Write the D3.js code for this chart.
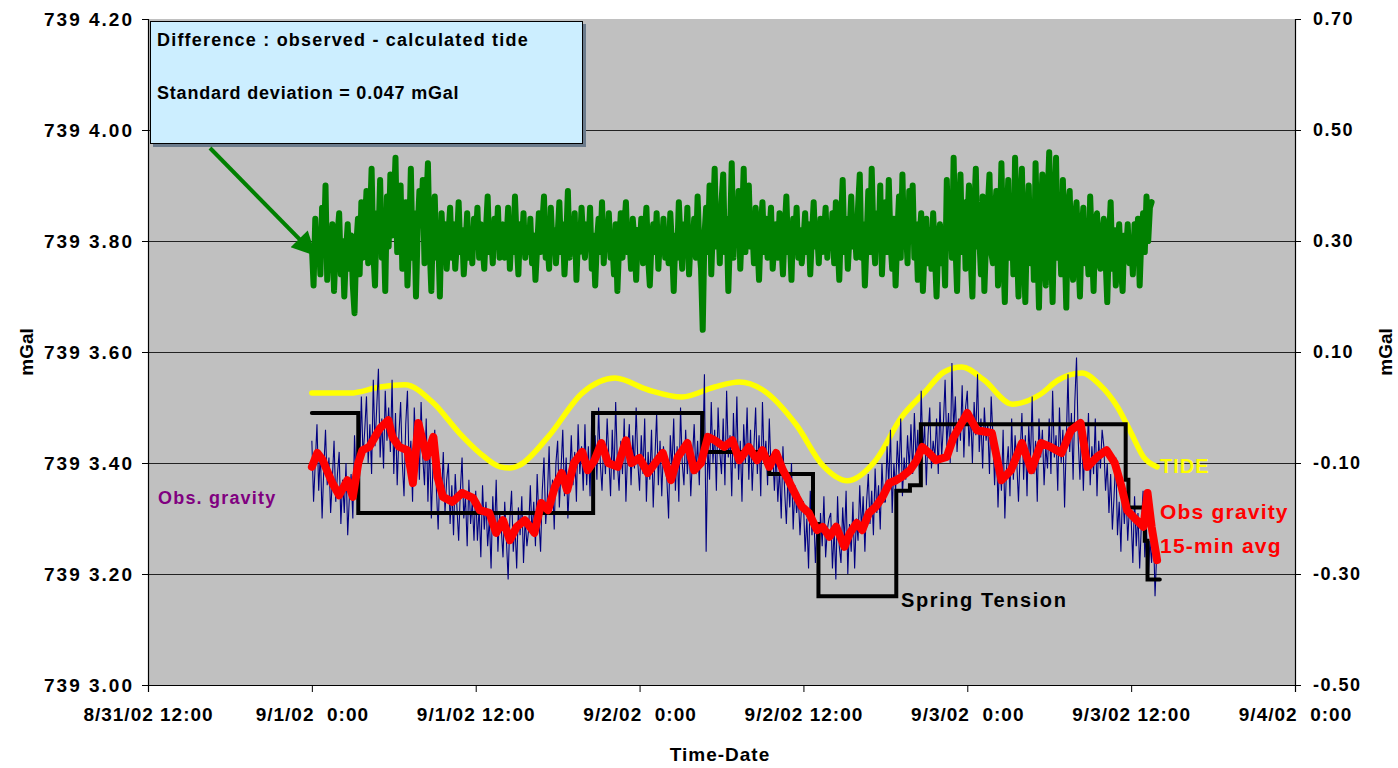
<!DOCTYPE html>
<html>
<head>
<meta charset="utf-8">
<script src="https://cdn.jsdelivr.net/npm/d3@7"></script>
<style>
  body { margin: 0; background: #fff; }
  svg text { font-family: "Liberation Sans", Arial, sans-serif; font-weight: bold; }
</style>
</head>
<body>
<svg id="chart" width="1398" height="768"></svg>
<script>
// ---- data (time in hours from 9/1/02 0:00) ----
var xTicks = [-12, 0, 12, 24, 36, 48, 60, 72];
var xTickLabels = ["8/31/02 12:00", "9/1/02  0:00", "9/1/02 12:00", "9/2/02  0:00",
                   "9/2/02 12:00", "9/3/02  0:00", "9/3/02 12:00", "9/4/02  0:00"];
var leftTicks = [7393.0, 7393.2, 7393.4, 7393.6, 7393.8, 7394.0, 7394.2];
var leftTickLabels = ["739 3.00", "739 3.20", "739 3.40", "739 3.60", "739 3.80", "739 4.00", "739 4.20"];
var rightTicks = [-0.5, -0.3, -0.1, 0.1, 0.3, 0.5, 0.7];
var rightTickLabels = ["-0.50", "-0.30", "-0.10", "0.10", "0.30", "0.50", "0.70"];

// difference observed - calculated tide (right axis), every 7.5 min from h=0
var diffStep = 0.125;
var diffValues = [
  0.29, 0.22, 0.34, 0.26, 0.31, 0.24, 0.36, 0.28, 0.40, 0.23, 0.30, 0.26, 0.33, 0.21, 0.29, 0.31,
  0.35, 0.24, 0.30, 0.20, 0.28, 0.33, 0.25, 0.31, 0.22, 0.17, 0.29, 0.34, 0.24, 0.37, 0.27, 0.32,
  0.39, 0.26, 0.33, 0.43, 0.28, 0.22, 0.35, 0.30, 0.41, 0.27, 0.33, 0.21, 0.38, 0.29, 0.42, 0.31,
  0.36, 0.45, 0.28, 0.34, 0.40, 0.25, 0.31, 0.37, 0.22, 0.30, 0.43, 0.27, 0.35, 0.20, 0.32, 0.39,
  0.33, 0.41, 0.26, 0.36, 0.44, 0.29, 0.21, 0.34, 0.38, 0.27, 0.31, 0.20, 0.35, 0.28, 0.33, 0.25,
  0.31, 0.36, 0.27, 0.33, 0.25, 0.30, 0.37, 0.28, 0.32, 0.24, 0.29, 0.35, 0.27, 0.31, 0.26, 0.34,
  0.30, 0.36, 0.27, 0.33, 0.29, 0.25, 0.32, 0.38, 0.28, 0.31, 0.26, 0.34, 0.29, 0.36, 0.27, 0.31,
  0.33, 0.27, 0.30, 0.36, 0.25, 0.32, 0.28, 0.38, 0.30, 0.24, 0.33, 0.29, 0.35, 0.27, 0.31, 0.28,
  0.34, 0.26, 0.31, 0.23, 0.29, 0.35, 0.28, 0.33, 0.38, 0.27, 0.30, 0.25, 0.36, 0.29, 0.32, 0.26,
  0.31, 0.37, 0.28, 0.33, 0.24, 0.30, 0.39, 0.27, 0.32, 0.29, 0.35, 0.23, 0.31, 0.28, 0.36, 0.30,
  0.27, 0.33, 0.29, 0.36, 0.25, 0.31, 0.22, 0.30, 0.34, 0.28, 0.37, 0.26, 0.32, 0.29, 0.35, 0.27,
  0.30, 0.24, 0.33, 0.21, 0.29, 0.35, 0.27, 0.32, 0.37, 0.28, 0.31, 0.25, 0.34, 0.30, 0.23, 0.32,
  0.28, 0.34, 0.26, 0.31, 0.36, 0.27, 0.22, 0.30, 0.33, 0.28, 0.35, 0.25, 0.31, 0.29, 0.34, 0.27,
  0.32, 0.26, 0.35, 0.29, 0.21, 0.31, 0.27, 0.37, 0.30, 0.25, 0.33, 0.28, 0.36, 0.24, 0.31, 0.29,
  0.34, 0.27, 0.38, 0.29, 0.25, 0.14, 0.31, 0.36, 0.28, 0.40, 0.24, 0.33, 0.43, 0.29, 0.35, 0.26,
  0.37, 0.42, 0.28, 0.34, 0.21, 0.31, 0.44, 0.27, 0.36, 0.30, 0.39, 0.25, 0.33, 0.43, 0.28, 0.35,
  0.40, 0.29, 0.33, 0.26, 0.36, 0.30, 0.23, 0.32, 0.37, 0.28, 0.34, 0.27, 0.31, 0.36, 0.25, 0.30,
  0.33, 0.27, 0.35, 0.30, 0.24, 0.32, 0.38, 0.28, 0.31, 0.23, 0.34, 0.29, 0.36, 0.27, 0.32, 0.26,
  0.30, 0.35, 0.28, 0.33, 0.24, 0.31, 0.37, 0.29, 0.32, 0.26, 0.34, 0.28, 0.31, 0.36, 0.27, 0.33,
  0.29, 0.35, 0.26, 0.37, 0.30, 0.23, 0.33, 0.41, 0.28, 0.34, 0.25, 0.31, 0.38, 0.29, 0.33, 0.27,
  0.36, 0.42, 0.27, 0.33, 0.22, 0.30, 0.39, 0.28, 0.43, 0.31, 0.26, 0.35, 0.29, 0.40, 0.24, 0.32,
  0.37, 0.28, 0.41, 0.30, 0.25, 0.34, 0.22, 0.31, 0.38, 0.27, 0.42, 0.29, 0.33, 0.26, 0.39, 0.30,
  0.40, 0.27, 0.33, 0.23, 0.30, 0.35, 0.21, 0.29, 0.34, 0.26, 0.32, 0.25, 0.35, 0.28, 0.20, 0.30,
  0.33, 0.26, 0.31, 0.22, 0.41, 0.29, 0.36, 0.27, 0.45, 0.30, 0.21, 0.34, 0.42, 0.28, 0.37, 0.25,
  0.33, 0.40, 0.27, 0.20, 0.35, 0.43, 0.29, 0.31, 0.24, 0.38, 0.21, 0.30, 0.36, 0.42, 0.28, 0.26,
  0.34, 0.39, 0.22, 0.31, 0.44, 0.28, 0.19, 0.33, 0.41, 0.27, 0.36, 0.24, 0.45, 0.30, 0.20, 0.35,
  0.43, 0.28, 0.19, 0.33, 0.40, 0.26, 0.36, 0.23, 0.44, 0.30, 0.18, 0.34, 0.42, 0.27, 0.22, 0.37,
  0.46, 0.29, 0.19, 0.35, 0.45, 0.27, 0.33, 0.24, 0.41, 0.30, 0.18, 0.36, 0.39, 0.26, 0.23, 0.34,
  0.37, 0.28, 0.20, 0.32, 0.36, 0.26, 0.30, 0.24, 0.38, 0.29, 0.21, 0.33, 0.35, 0.27, 0.25, 0.31,
  0.34, 0.27, 0.19, 0.30, 0.37, 0.25, 0.32, 0.22, 0.29, 0.33, 0.25, 0.21, 0.31, 0.28, 0.33, 0.26,
  0.30, 0.24, 0.33, 0.27, 0.34, 0.22, 0.31, 0.35, 0.28, 0.38, 0.30, 0.36, 0.37
];

// observed gravity raw (left axis), every 7.5 min from h=0
var obsStep = 0.125;
var obsValues = [
  7393.44, 7393.33, 7393.40, 7393.47, 7393.35, 7393.42, 7393.30, 7393.39, 7393.46, 7393.36, 7393.41, 7393.31, 7393.37, 7393.44, 7393.33, 7393.38,
  7393.42, 7393.29, 7393.37, 7393.31, 7393.40, 7393.27, 7393.34, 7393.38, 7393.30, 7393.45, 7393.36, 7393.48, 7393.39, 7393.52, 7393.41, 7393.46,
  7393.52, 7393.40, 7393.47, 7393.38, 7393.55, 7393.43, 7393.50, 7393.57, 7393.41, 7393.48, 7393.39, 7393.53, 7393.44, 7393.50, 7393.42, 7393.55,
  7393.38, 7393.49, 7393.36, 7393.45, 7393.51, 7393.40, 7393.34, 7393.47, 7393.53, 7393.39, 7393.44, 7393.33, 7393.50, 7393.42, 7393.47, 7393.37,
  7393.51, 7393.41, 7393.36, 7393.48, 7393.33, 7393.44, 7393.30, 7393.40, 7393.46, 7393.35, 7393.28, 7393.39, 7393.34, 7393.42, 7393.31, 7393.37,
  7393.40, 7393.29, 7393.36, 7393.27, 7393.38, 7393.32, 7393.26, 7393.35, 7393.41, 7393.30, 7393.34, 7393.25, 7393.37, 7393.29, 7393.33, 7393.26,
  7393.35, 7393.26, 7393.32, 7393.23, 7393.36, 7393.28, 7393.33, 7393.25, 7393.30, 7393.21, 7393.34, 7393.27, 7393.37, 7393.24, 7393.31, 7393.28,
  7393.23, 7393.33, 7393.26, 7393.19, 7393.30, 7393.35, 7393.24, 7393.29, 7393.21, 7393.32, 7393.27, 7393.34, 7393.22, 7393.30, 7393.25, 7393.28,
  7393.36, 7393.27, 7393.33, 7393.25, 7393.38, 7393.30, 7393.24, 7393.35, 7393.41, 7393.29, 7393.34, 7393.43, 7393.31, 7393.37, 7393.28, 7393.40,
  7393.44, 7393.32, 7393.39, 7393.46, 7393.34, 7393.41, 7393.30, 7393.37, 7393.45, 7393.36, 7393.42, 7393.33, 7393.47, 7393.38, 7393.43, 7393.35,
  7393.47, 7393.36, 7393.43, 7393.34, 7393.49, 7393.39, 7393.45, 7393.37, 7393.50, 7393.40, 7393.35, 7393.44, 7393.38, 7393.48, 7393.41, 7393.34,
  7393.46, 7393.37, 7393.51, 7393.40, 7393.35, 7393.44, 7393.38, 7393.48, 7393.33, 7393.42, 7393.47, 7393.36, 7393.45, 7393.39, 7393.50, 7393.40,
  7393.35, 7393.45, 7393.38, 7393.48, 7393.33, 7393.42, 7393.37, 7393.46, 7393.32, 7393.41, 7393.49, 7393.36, 7393.44, 7393.34, 7393.43, 7393.39,
  7393.37, 7393.30, 7393.45, 7393.39, 7393.48, 7393.35, 7393.43, 7393.33, 7393.50, 7393.40, 7393.36, 7393.46, 7393.38, 7393.44, 7393.34, 7393.41,
  7393.47, 7393.38, 7393.44, 7393.36, 7393.49, 7393.41, 7393.56, 7393.24, 7393.43, 7393.37, 7393.51, 7393.40, 7393.46, 7393.35, 7393.50, 7393.42,
  7393.38, 7393.48, 7393.36, 7393.53, 7393.41, 7393.45, 7393.34, 7393.49, 7393.39, 7393.52, 7393.37, 7393.44, 7393.33, 7393.47, 7393.40, 7393.50,
  7393.37, 7393.46, 7393.35, 7393.43, 7393.50, 7393.38, 7393.45, 7393.34, 7393.51, 7393.40, 7393.44, 7393.36, 7393.48, 7393.39, 7393.42, 7393.35,
  7393.42, 7393.33, 7393.39, 7393.30, 7393.43, 7393.35, 7393.29, 7393.38, 7393.32, 7393.40, 7393.28, 7393.36, 7393.31, 7393.34, 7393.27, 7393.33,
  7393.33, 7393.24, 7393.30, 7393.21, 7393.35, 7393.27, 7393.32, 7393.22, 7393.29, 7393.19, 7393.31, 7393.25, 7393.34, 7393.23, 7393.28, 7393.30,
  7393.31, 7393.21, 7393.28, 7393.19, 7393.34, 7393.25, 7393.22, 7393.32, 7393.26, 7393.35, 7393.20, 7393.29, 7393.24, 7393.33, 7393.21, 7393.30,
  7393.26, 7393.36, 7393.28, 7393.34, 7393.24, 7393.33, 7393.38, 7393.29, 7393.35, 7393.27, 7393.39, 7393.31, 7393.36, 7393.28, 7393.40, 7393.33,
  7393.33, 7393.43, 7393.36, 7393.46, 7393.31, 7393.40, 7393.35, 7393.44, 7393.38, 7393.48, 7393.34, 7393.41, 7393.37, 7393.45, 7393.39, 7393.47,
  7393.38, 7393.49, 7393.40, 7393.46, 7393.37, 7393.53, 7393.42, 7393.47, 7393.36, 7393.45, 7393.50, 7393.39, 7393.44, 7393.41, 7393.48, 7393.38,
  7393.51, 7393.41, 7393.47, 7393.55, 7393.43, 7393.49, 7393.40, 7393.58, 7393.46, 7393.52, 7393.42, 7393.48, 7393.44, 7393.54, 7393.41, 7393.50,
  7393.53, 7393.43, 7393.49, 7393.40, 7393.51, 7393.45, 7393.56, 7393.42, 7393.48, 7393.39, 7393.50, 7393.44, 7393.47, 7393.38, 7393.52, 7393.45,
  7393.36, 7393.44, 7393.32, 7393.41, 7393.35, 7393.46, 7393.30, 7393.39, 7393.43, 7393.34, 7393.48, 7393.37, 7393.45, 7393.40, 7393.33, 7393.42,
  7393.49, 7393.37, 7393.45, 7393.34, 7393.47, 7393.40, 7393.52, 7393.38, 7393.44, 7393.33, 7393.48, 7393.41, 7393.46, 7393.36, 7393.43, 7393.39,
  7393.48, 7393.38, 7393.53, 7393.41, 7393.45, 7393.35, 7393.50, 7393.40, 7393.46, 7393.32, 7393.44, 7393.56, 7393.42, 7393.49, 7393.37, 7393.51,
  7393.59, 7393.44, 7393.37, 7393.47, 7393.35, 7393.45, 7393.40, 7393.49, 7393.36, 7393.43, 7393.38, 7393.48, 7393.34, 7393.44, 7393.39, 7393.46,
  7393.43, 7393.35, 7393.40, 7393.31, 7393.38, 7393.28, 7393.34, 7393.41, 7393.27, 7393.33, 7393.24, 7393.36, 7393.29, 7393.35, 7393.26, 7393.32,
  7393.30, 7393.22, 7393.34, 7393.25, 7393.31, 7393.21, 7393.29, 7393.35, 7393.23, 7393.28, 7393.19, 7393.26, 7393.22, 7393.29, 7393.16, 7393.24,
  7393.22
];

// 15-min average [hour, mGal]
var avgPoints = [
  [0.0, 7393.393], [0.4, 7393.418], [0.8, 7393.405], [1.1, 7393.387], [1.5, 7393.364],
  [2.0, 7393.342], [2.6, 7393.369], [3.0, 7393.339], [3.4, 7393.400], [3.7, 7393.423],
  [4.2, 7393.429], [5.0, 7393.463], [5.6, 7393.477], [5.9, 7393.447], [6.4, 7393.429],
  [7.0, 7393.423], [7.4, 7393.364], [7.8, 7393.472], [8.4, 7393.411], [8.9, 7393.447],
  [9.2, 7393.375], [9.6, 7393.339], [10.3, 7393.330], [11.0, 7393.346], [11.8, 7393.337],
  [12.3, 7393.315], [13.0, 7393.310], [13.5, 7393.274], [14.0, 7393.297], [14.5, 7393.261],
  [15.0, 7393.285], [15.6, 7393.297], [16.3, 7393.274], [16.8, 7393.328], [17.3, 7393.315],
  [17.8, 7393.357], [18.3, 7393.382], [18.7, 7393.351], [19.2, 7393.400], [19.8, 7393.420],
  [20.2, 7393.387], [20.7, 7393.405], [21.2, 7393.436], [21.7, 7393.400], [22.4, 7393.393],
  [23.0, 7393.441], [23.4, 7393.400], [24.0, 7393.409], [24.6, 7393.382], [25.3, 7393.405],
  [25.7, 7393.418], [26.3, 7393.369], [26.8, 7393.411], [27.5, 7393.436], [28.0, 7393.387],
  [28.5, 7393.400], [29.0, 7393.447], [29.5, 7393.441], [30.2, 7393.429], [30.8, 7393.441],
  [31.3, 7393.405], [32.0, 7393.429], [32.6, 7393.405], [33.0, 7393.423], [33.5, 7393.393],
  [34.0, 7393.418], [34.5, 7393.387], [35.0, 7393.364], [35.5, 7393.339], [35.9, 7393.321],
  [36.4, 7393.310], [37.0, 7393.279], [37.4, 7393.285], [37.9, 7393.267], [38.4, 7393.285],
  [39.0, 7393.249], [39.4, 7393.274], [39.9, 7393.292], [40.3, 7393.279], [40.8, 7393.310],
  [41.3, 7393.321], [41.8, 7393.339], [42.3, 7393.364], [42.8, 7393.369], [43.2, 7393.375],
  [43.8, 7393.387], [44.3, 7393.405], [44.7, 7393.429], [45.2, 7393.418], [45.7, 7393.405],
  [46.5, 7393.411], [47.0, 7393.447], [48.0, 7393.490], [48.7, 7393.459], [49.8, 7393.454],
  [50.5, 7393.369], [51.2, 7393.387], [52.0, 7393.436], [52.7, 7393.387], [53.4, 7393.436],
  [54.1, 7393.429], [54.9, 7393.418], [55.6, 7393.459], [56.3, 7393.472], [56.8, 7393.393],
  [57.5, 7393.411], [58.2, 7393.423], [58.8, 7393.400], [59.3, 7393.357], [59.7, 7393.315],
  [60.4, 7393.297], [60.9, 7393.285], [61.2, 7393.346], [61.5, 7393.285], [61.9, 7393.225]
];

// calculated tide [hour, mGal]
var tidePoints = [
  [0.0, 7393.526], [2.8, 7393.526], [5.0, 7393.537], [6.8, 7393.541], [8.9, 7393.508],
  [10.8, 7393.454], [12.3, 7393.418], [13.8, 7393.393], [14.5, 7393.391], [15.2, 7393.396],
  [17.3, 7393.447], [19.8, 7393.526], [22.2, 7393.553], [24.6, 7393.532], [27.1, 7393.519],
  [29.5, 7393.537], [31.3, 7393.546], [33.0, 7393.532], [35.5, 7393.468], [37.4, 7393.396],
  [39.2, 7393.368], [41.3, 7393.405], [43.2, 7393.483], [44.9, 7393.528], [46.3, 7393.564],
  [47.6, 7393.573], [49.2, 7393.550], [51.3, 7393.506], [53.3, 7393.523], [54.7, 7393.550],
  [56.4, 7393.562], [57.7, 7393.541], [59.0, 7393.501], [60.0, 7393.454], [60.9, 7393.411],
  [61.9, 7393.393]
];

// spring tension steps [hour, mGal]
var springPoints = [
  [0.0, 7393.49], [3.4, 7393.31], [20.6, 7393.49], [28.6, 7393.42], [33.0, 7393.41],
  [33.5, 7393.38], [36.7, 7393.29], [37.1, 7393.16], [42.8, 7393.35], [43.8, 7393.36],
  [44.6, 7393.47], [59.6, 7393.37], [59.8, 7393.32], [61.0, 7393.26], [61.2, 7393.19],
  [62.1, 7393.19]
];

// ---- layout ----
var svg = d3.select("#chart");
var plot = { left: 148, right: 1295, top: 19, bottom: 685 };

var x = d3.scaleLinear().domain([-12, 72]).range([plot.left, plot.right]);
var yL = d3.scaleLinear().domain([7393.0, 7394.2]).range([plot.bottom, plot.top]);
var yR = d3.scaleLinear().domain([-0.5, 0.7]).range([plot.bottom, plot.top]);

svg.append("rect")
  .attr("x", plot.left).attr("y", plot.top)
  .attr("width", plot.right - plot.left).attr("height", plot.bottom - plot.top)
  .attr("fill", "#c0c0c0");

// gridlines
svg.append("g").selectAll("line")
  .data(leftTicks.slice(1, -1))
  .enter().append("line")
    .attr("x1", plot.left).attr("x2", plot.right)
    .attr("y1", function(d) { return Math.round(yL(d)) + 0.5; })
    .attr("y2", function(d) { return Math.round(yL(d)) + 0.5; })
    .attr("stroke", "#222").attr("stroke-width", 1);

// axes
var leftAxis = svg.append("g")
  .attr("transform", "translate(" + plot.left + ",0)")
  .call(d3.axisLeft(yL).tickValues(leftTicks).tickSize(6).tickPadding(8)
        .tickFormat(function(d, i) { return leftTickLabels[i]; }));

var rightAxis = svg.append("g")
  .attr("transform", "translate(" + plot.right + ",0)")
  .call(d3.axisRight(yR).tickValues(rightTicks).tickSize(6).tickPadding(12)
        .tickFormat(function(d, i) { return rightTickLabels[i]; }));

var bottomAxis = svg.append("g")
  .attr("transform", "translate(0," + plot.bottom + ")")
  .call(d3.axisBottom(x).tickValues(xTicks).tickSize(7).tickPadding(16)
        .tickFormat(function(d, i) { return xTickLabels[i]; }));

[leftAxis, rightAxis, bottomAxis].forEach(function(a) {
  a.select(".domain").attr("stroke", "#000").attr("stroke-width", 1.2);
  a.selectAll(".tick line").attr("stroke", "#000");
  a.selectAll("text")
    .attr("fill", "#000")
    .style("font-size", "19px")
    .style("font-family", "'Liberation Sans', Arial, sans-serif")
    .style("font-weight", "bold")
    .style("white-space", "pre");
});
leftAxis.selectAll("text").style("letter-spacing", "2px");
bottomAxis.selectAll("text").style("letter-spacing", "1px");
rightAxis.selectAll("text").style("font-size", "18px").style("letter-spacing", "1.5px");

// ---- series ----
var lineL = d3.line()
  .x(function(d) { return x(d[0]); })
  .y(function(d) { return yL(d[1]); });

var diffData = diffValues.map(function(v, i) { return [i * diffStep, v]; });
svg.append("path")
  .datum(diffData)
  .attr("fill", "none").attr("stroke", "#008000").attr("stroke-width", 6)
  .attr("stroke-linejoin", "round").attr("stroke-linecap", "round")
  .attr("d", d3.line()
    .x(function(d) { return x(d[0]); })
    .y(function(d) { return yR(d[1]); }));

svg.append("path")
  .datum(tidePoints)
  .attr("fill", "none").attr("stroke", "#ffff00").attr("stroke-width", 5.5)
  .attr("stroke-linecap", "round")
  .attr("d", lineL.curve(d3.curveMonotoneX));

var obsData = obsValues.map(function(v, i) { return [i * obsStep, v]; });
svg.append("path")
  .datum(obsData)
  .attr("fill", "none").attr("stroke", "#000080").attr("stroke-width", 1.1)
  .attr("d", d3.line()
    .x(function(d) { return x(d[0]); })
    .y(function(d) { return yL(d[1]); }));

svg.append("path")
  .datum(springPoints)
  .attr("fill", "none").attr("stroke", "#000").attr("stroke-width", 4)
  .attr("stroke-linecap", "round")
  .attr("d", d3.line()
    .x(function(d) { return x(d[0]); })
    .y(function(d) { return yL(d[1]); })
    .curve(d3.curveStepAfter));

svg.append("path")
  .datum(avgPoints)
  .attr("fill", "none").attr("stroke", "#ff0000").attr("stroke-width", 8)
  .attr("stroke-linejoin", "round").attr("stroke-linecap", "round")
  .attr("d", d3.line()
    .x(function(d) { return x(d[0]); })
    .y(function(d) { return yL(d[1]); }));

// ---- annotation box and arrow ----
svg.append("rect")
  .attr("x", 153).attr("y", 24).attr("width", 433).attr("height", 123)
  .attr("fill", "#6b7b8c");
svg.append("rect")
  .attr("x", 150.5).attr("y", 21.5).attr("width", 432).attr("height", 122)
  .attr("fill", "#cceeff").attr("stroke", "#000").attr("stroke-width", 1);
svg.append("text").attr("x", 157).attr("y", 46)
  .style("font-size", "18px").style("letter-spacing", "1.2px")
  .text("Difference : observed  - calculated tide");
svg.append("text").attr("x", 157).attr("y", 99)
  .style("font-size", "18px").style("letter-spacing", "0.8px")
  .text("Standard deviation = 0.047  mGal");

svg.append("defs").append("marker")
  .attr("id", "arrow").attr("viewBox", "0 0 10 10")
  .attr("refX", 10).attr("refY", 5)
  .attr("markerUnits", "userSpaceOnUse")
  .attr("markerWidth", 30).attr("markerHeight", 24)
  .attr("orient", "auto")
  .append("path").attr("d", "M0,0 L10,5 L0,10 z").attr("fill", "#008000");
svg.append("line")
  .attr("x1", 210).attr("y1", 148).attr("x2", 316).attr("y2", 256)
  .attr("stroke", "#008000").attr("stroke-width", 4)
  .attr("marker-end", "url(#arrow)");

// ---- labels ----
svg.append("text").attr("x", 158).attr("y", 504).attr("fill", "#800080")
  .style("font-size", "18px").style("letter-spacing", "1.2px").text("Obs. gravity");
svg.append("text").attr("x", 1160).attr("y", 473).attr("fill", "#ffff00")
  .style("font-size", "20px").style("letter-spacing", "1px").text("TIDE");
svg.append("text").attr("x", 1160).attr("y", 519).attr("fill", "#ff0000")
  .style("font-size", "21px").style("letter-spacing", "1.2px").text("Obs gravity");
svg.append("text").attr("x", 1160).attr("y", 553).attr("fill", "#ff0000")
  .style("font-size", "21px").style("letter-spacing", "1.2px").text("15-min avg");
svg.append("text").attr("x", 901).attr("y", 607).attr("fill", "#000")
  .style("font-size", "20px").style("letter-spacing", "1.6px").text("Spring Tension");

svg.append("text")
  .attr("transform", "translate(33,352) rotate(-90)")
  .attr("text-anchor", "middle").style("font-size", "19px").text("mGal");
svg.append("text")
  .attr("transform", "translate(1392,352) rotate(-90)")
  .attr("text-anchor", "middle").style("font-size", "19px").text("mGal");
svg.append("text")
  .attr("x", 720).attr("y", 761).attr("text-anchor", "middle")
  .style("font-size", "19px").style("letter-spacing", "1px").text("Time-Date");
</script>
</body>
</html>
